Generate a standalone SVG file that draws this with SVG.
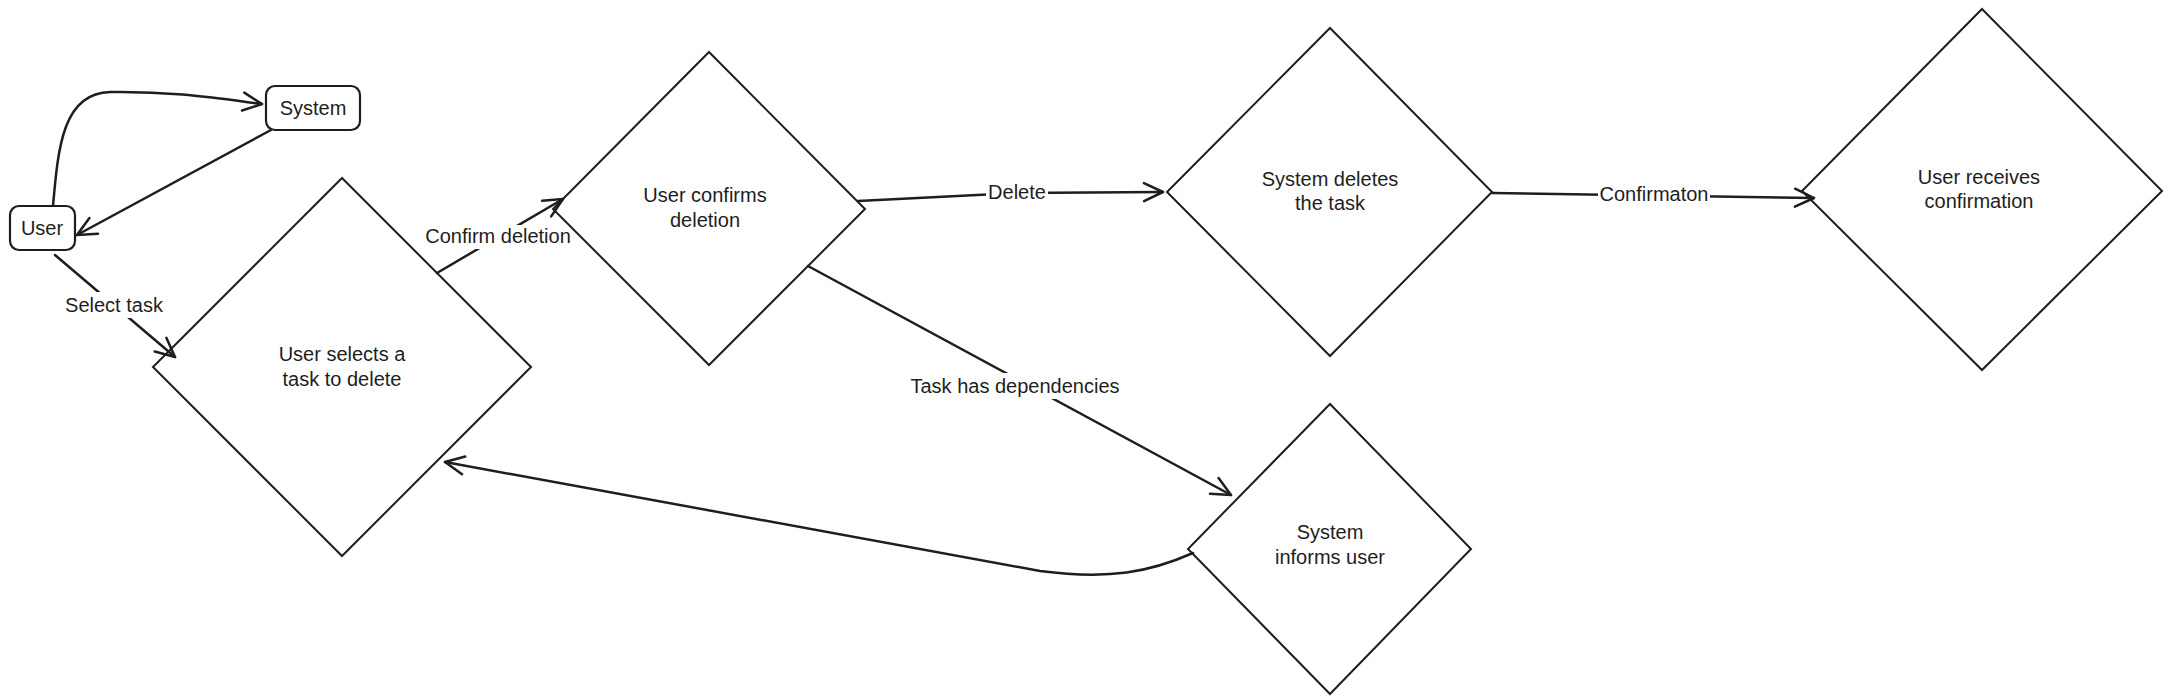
<svg xmlns="http://www.w3.org/2000/svg" width="2171" height="697" viewBox="0 0 2171 697">
<style>
.shape{fill:none;stroke:#1e1e1e;stroke-width:2;stroke-linejoin:miter}
.box{fill:#fff;stroke:#1e1e1e;stroke-width:2.2}
.conn{fill:none;stroke:#1e1e1e;stroke-width:2.5;stroke-linecap:round;marker-end:url(#arrow)}
.t{font-family:"Liberation Sans",Arial,sans-serif;font-size:20px;fill:#1e1e1e;text-anchor:middle}
.lbg{fill:#fff}
</style>
<defs>
<marker id="arrow" markerUnits="userSpaceOnUse" viewBox="0 0 24 24" markerWidth="24" markerHeight="24" refX="21" refY="12" orient="auto">
<path d="M2,3 L21,12 L2,21" fill="none" stroke="#1e1e1e" stroke-width="2.5" stroke-linecap="round" stroke-linejoin="round"/>
</marker>
</defs>
<rect width="2171" height="697" fill="#fff"/>

<g id="connectors">
<path class="conn" d="M53,206 C58,150 62,93 110,92 C170,91 215,98 262,104"/>
<path class="conn" d="M271,130 L77,235"/>
<path class="conn" d="M55,255 L175,357"/>
<path class="conn" d="M437,273 L563,199"/>
<path class="conn" d="M858,201 L1017,193 L1163,192"/>
<path class="conn" d="M808,266 L1231,495"/>
<path class="conn" d="M1492,193 L1814,198"/>
<path class="conn" d="M1193,553 C1150,572 1110,580 1040,571 L445,462"/>

<rect class="lbg" x="60" y="292" width="108" height="26"/>
<text class="t" x="114" y="312">Select task</text>
<rect class="lbg" x="427" y="225" width="142" height="24"/>
<text class="t" x="498" y="243">Confirm deletion</text>
<rect class="lbg" x="986" y="180" width="62" height="25"/>
<text class="t" x="1017" y="199">Delete</text>
<rect class="lbg" x="908" y="373" width="214" height="26"/>
<text class="t" x="1015" y="393">Task has dependencies</text>
<rect class="lbg" x="1598" y="182" width="112" height="25"/>
<text class="t" x="1654" y="201">Confirmaton</text>
</g>

<g id="node-user-selects">
<polygon class="shape" points="342,178 531,367 342,556 153,367"/>
<text class="t" x="342" y="361">User selects a</text>
<text class="t" x="342" y="386">task to delete</text>
</g>
<g id="node-user-confirms">
<polygon class="shape" points="709,52 865,209 709,365 553,209"/>
<text class="t" x="705" y="202">User confirms</text>
<text class="t" x="705" y="227">deletion</text>
</g>
<g id="node-system-deletes">
<polygon class="shape" points="1330,28 1492,192 1330,356 1167,192"/>
<text class="t" x="1330" y="186">System deletes</text>
<text class="t" x="1330" y="210">the task</text>
</g>
<g id="node-user-receives">
<polygon class="shape" points="1982,9 2162,191 1982,370 1802,191"/>
<text class="t" x="1979" y="184">User receives</text>
<text class="t" x="1979" y="208">confirmation</text>
</g>
<g id="node-system-informs">
<polygon class="shape" points="1330,404 1471,549 1330,694 1188,549"/>
<text class="t" x="1330" y="539">System</text>
<text class="t" x="1330" y="564">informs user</text>
</g>

<g id="node-user">
<rect class="box" x="10" y="206" width="65" height="44" rx="9"/>
<text class="t" x="42" y="235">User</text>
</g>
<g id="node-system">
<rect class="box" x="266" y="86" width="94" height="44" rx="9"/>
<text class="t" x="313" y="115">System</text>
</g>
</svg>
